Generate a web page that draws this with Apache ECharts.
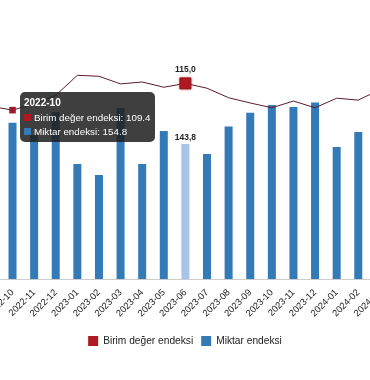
<!DOCTYPE html>
<html>
<head>
<meta charset="utf-8">
<script src="https://cdn.jsdelivr.net/npm/echarts@6/dist/echarts.min.js"></script>
<style>
  html, body { margin: 0; padding: 0; width: 370px; height: 380px; overflow: hidden; background: #fff; }
  #chart { position: absolute; left: -30px; top: 0; width: 430px; height: 380px; }
</style>
</head>
<body>
<div id="chart"></div>
<script>
// Categories (the visible window runs from 2022-10 to 2024-02; neighbours are partly cut off)
const categories = ['2022-09','2022-10','2022-11','2022-12','2023-01','2023-02','2023-03','2023-04','2023-05','2023-06','2023-07','2023-08','2023-09','2023-10','2023-11','2023-12','2024-01','2024-02','2024-03'];
// Miktar endeksi (bars)
const miktar = [150.0, 154.8, 148.5, 160.4, 133.5, 127.8, 162.4, 133.5, 150.5, 143.8, 138.7, 152.8, 160.0, 164.0, 162.9, 165.2, 142.3, 150.0, 150.0];
// Birim değer endeksi (line)
const birim = [110.2, 109.4, 110.7, 112.5, 116.7, 116.5, 114.9, 115.3, 114.2, 115.0, 114.0, 112.0, 110.9, 109.9, 111.3, 109.9, 111.9, 111.5, 113.7];

const seriesNames = ['Birim değer endeksi', 'Miktar endeksi'];
const highlightCategory = '2023-06';
const tooltipCategory = '2022-10';

const RED = '#b0191f';
const BLUE = '#337ab7';
const BLUE_LIGHT = '#a9c2e6';
const FONT = '"Liberation Sans", Arial, sans-serif';

const hi = categories.indexOf(highlightCategory);
const tip = categories.indexOf(tooltipCategory);
const fmtComma = v => v.toFixed(1).replace('.', ',');

const barData = miktar.map((v, i) => i === hi ? {
  value: v,
  itemStyle: { color: BLUE_LIGHT },
  label: { show: true, position: 'top', distance: 2, fontFamily: FONT, fontSize: 8.5, fontWeight: 'bold', color: '#222', formatter: p => fmtComma(p.value) }
} : v);

const lineData = birim.map((v, i) => i === hi ? {
  value: v,
  symbolSize: 11,
  itemStyle: { color: RED, borderColor: '#8a1015', borderWidth: 1, shadowBlur: 3, shadowColor: 'rgba(200,40,50,0.5)' },
  label: { show: true, position: 'top', distance: 3, fontFamily: FONT, fontSize: 8.5, fontWeight: 'bold', color: '#222', formatter: p => fmtComma(p.value) }
} : (i === tip ? { value: v, symbolSize: 6, itemStyle: { color: '#9b1c2c' } } : { value: v, symbolSize: 0 }));

const chart = echarts.init(document.getElementById('chart'), null, { renderer: 'canvas' });

const icon = c => '<span style="display:inline-block;width:7px;height:7px;background:' + c + ';margin-right:3px;vertical-align:0px;"></span>';

chart.setOption({
  animation: false,
  textStyle: { fontFamily: FONT },
  grid: { left: 10.1, right: 9.3, top: 30, bottom: 101, containLabel: false, outerBoundsMode: 'none' },
  legend: {
    data: seriesNames,
    left: 'center',
    top: 331,
    itemWidth: 10,
    itemHeight: 10,
    itemGap: 8,
    icon: 'rect',
    textStyle: { fontFamily: FONT, fontSize: 10.2, color: '#222' }
  },
  tooltip: {
    trigger: 'axis',
    axisPointer: { type: 'none' },
    triggerOn: 'none',
    alwaysShowContent: true,
    position: [50, 92],
    padding: 0,
    borderWidth: 0,
    borderRadius: 5,
    backgroundColor: 'rgba(32,32,32,0.86)',
    extraCssText: 'box-shadow:none;',
    formatter: function (params) {
      const idx = params[0].dataIndex;
      return '<div style="padding:3px 4px 4px 4px;font-family:' + FONT.replace(/"/g, "'") + ';color:#fff;">' +
        '<div style="font-weight:bold;font-size:10px;line-height:16px;">' + categories[idx] + '</div>' +
        '<div style="font-size:9.8px;line-height:13.5px;">' + icon(RED) + seriesNames[0] + ': ' + birim[idx] + '</div>' +
        '<div style="font-size:9.8px;line-height:13.5px;">' + icon(BLUE) + seriesNames[1] + ': ' + miktar[idx] + '</div>' +
        '</div>';
    }
  },
  xAxis: {
    type: 'category',
    data: categories,
    boundaryGap: true,
    axisLine: { show: true, lineStyle: { color: '#cccccc', width: 1 } },
    axisTick: { show: false },
    axisLabel: { rotate: 45, interval: 0, fontFamily: FONT, fontSize: 9.3, color: '#222', margin: 12 }
  },
  yAxis: [
    { type: 'value', min: 74.1, max: 202.7, show: false, splitLine: { show: false } },
    { type: 'value', min: 74.0, max: 126.2, show: false, splitLine: { show: false } }
  ],
  series: [
    {
      name: seriesNames[0],
      type: 'line',
      yAxisIndex: 1,
      data: lineData,
      symbol: 'rect',
      showSymbol: true,
      showAllSymbol: true,
      color: RED,
      lineStyle: { color: '#5c1a2a', width: 1 },
      emphasis: { disabled: true },
      z: 3
    },
    {
      name: seriesNames[1],
      type: 'bar',
      yAxisIndex: 0,
      data: barData,
      barWidth: 8,
      color: BLUE,
      emphasis: { disabled: true },
      z: 2
    }
  ]
});

chart.dispatchAction({ type: 'showTip', seriesIndex: 0, dataIndex: tip });
</script>
</body>
</html>
